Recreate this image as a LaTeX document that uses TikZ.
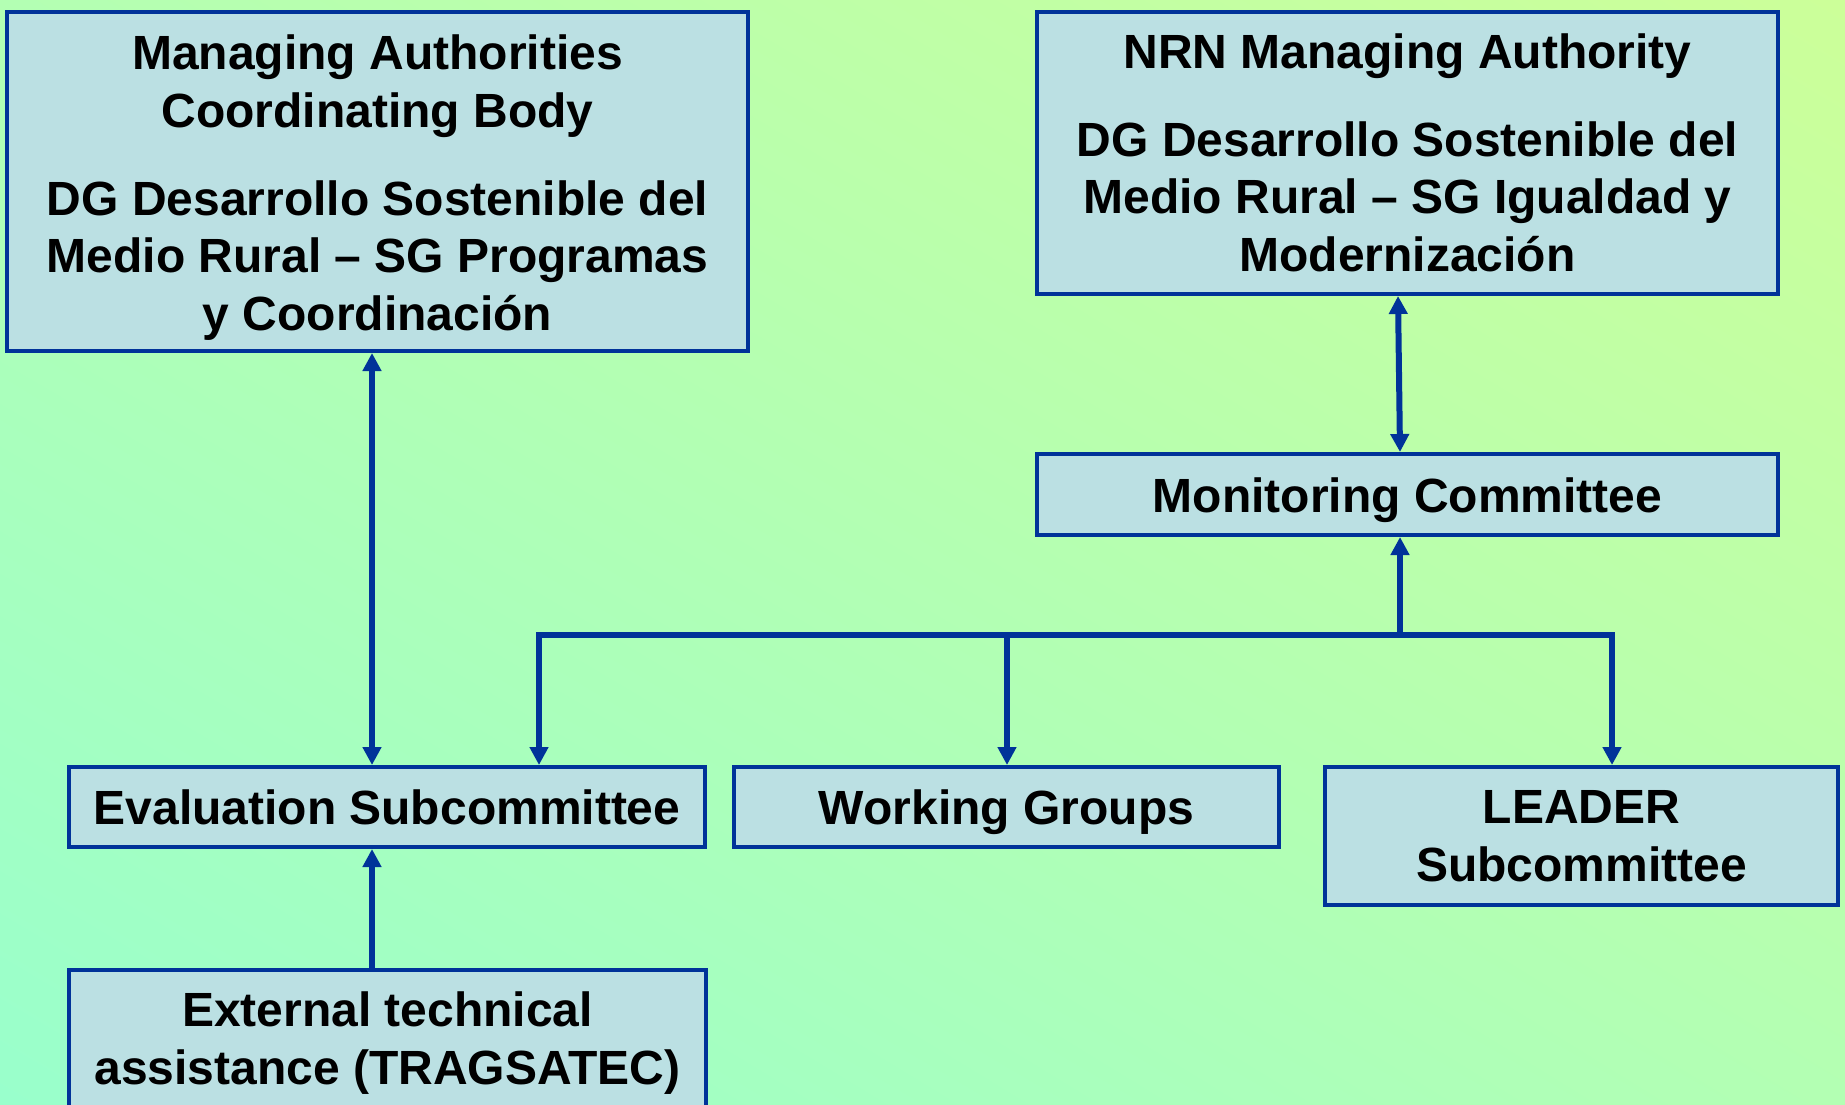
\documentclass[tikz,border=0pt]{standalone}
\usepackage{fontspec}
\setmainfont{Liberation Sans}
\usetikzlibrary{arrows.meta,shadings}
\definecolor{bgtr}{HTML}{CCFF99}
\definecolor{bgbl}{HTML}{99FFCC}
\definecolor{bgmid}{HTML}{B3FFB3}
\definecolor{boxfill}{HTML}{BBE0E3}
\definecolor{bdr}{HTML}{003399}
\tikzset{
  orgbox/.style={draw=bdr, fill=boxfill, line width=2pt, align=center, inner sep=0pt,
    font=\fontsize{24}{28.8}\selectfont\bfseries},
  oneline/.style={text height=17.5pt, text depth=0pt},
  conn/.style={draw=bdr, line width=3pt},
  tipend/.style={-{Triangle[length=9pt,width=9pt]}},
  tipboth/.style={{Triangle[length=9pt,width=9pt]}-{Triangle[length=9pt,width=9pt]}}
}
\begin{document}
\begin{tikzpicture}[x=0.5pt,y=-0.5pt]
\useasboundingbox (0,0) rectangle (1845,1104);
\shade[upper left=bgmid, upper right=bgtr, lower left=bgbl, lower right=bgmid] (0,0) rectangle (1845,1104);
\clip (0,0) rectangle (1845,1104);

\node[orgbox, minimum width=370.5pt, minimum height=169.5pt] (A) at (377.5,181.5)
  {\rule{0pt}{23.5pt}Managing Authorities\\Coordinating Body\\[15pt]DG Desarrollo Sostenible del\\Medio Rural – SG Programas\\y Coordinación};
\node[orgbox, minimum width=370.5pt, minimum height=141pt] (B) at (1407.5,153)
  {NRN Managing Authority\\[15pt]DG Desarrollo Sostenible del\\Medio Rural – SG Igualdad y\\Modernización};
\node[orgbox, oneline, minimum width=370.5pt, minimum height=40.5pt] (Mon) at (1407.5,494.5) {Monitoring Committee};
\node[orgbox, oneline, minimum width=318pt, minimum height=40pt] (Eval) at (387,807) {Evaluation Subcommittee};
\node[orgbox, oneline, minimum width=272.5pt, minimum height=40pt] (WG) at (1006.5,807) {Working Groups};
\node[orgbox, minimum width=256.5pt, minimum height=69pt] (LEAD) at (1581.5,836) {LEADER\\Subcommittee};
\node[orgbox, minimum width=318.5pt, minimum height=69.5pt] (Ext) at (387.5,1039.5) {\rule{0pt}{21pt}External technical\\assistance (TRAGSATEC)};

\coordinate (xA) at (372,0);
\coordinate (xBt) at (1398,0);
\coordinate (xBb) at (1400,0);
\coordinate (bus) at (1400,635);
\coordinate (busL) at (539,635);
\coordinate (busW) at (1007,635);
\coordinate (busR) at (1612,635);

\draw[conn,tipboth] (xA |- A.south) -- (xA |- Eval.north);
\draw[conn,tipend] (xA |- Ext.north) -- (xA |- Eval.south);
\draw[conn,tipboth] (xBt |- B.south) -- (xBb |- Mon.north);
\draw[conn,tipend] (bus) -- (bus |- Mon.south);
\draw[conn,tipboth] (busL |- Eval.north) -- (busL) -- (busR) -- (busR |- LEAD.north);
\draw[conn,tipend] (busW) -- (busW |- WG.north);
\end{tikzpicture}
\end{document}
